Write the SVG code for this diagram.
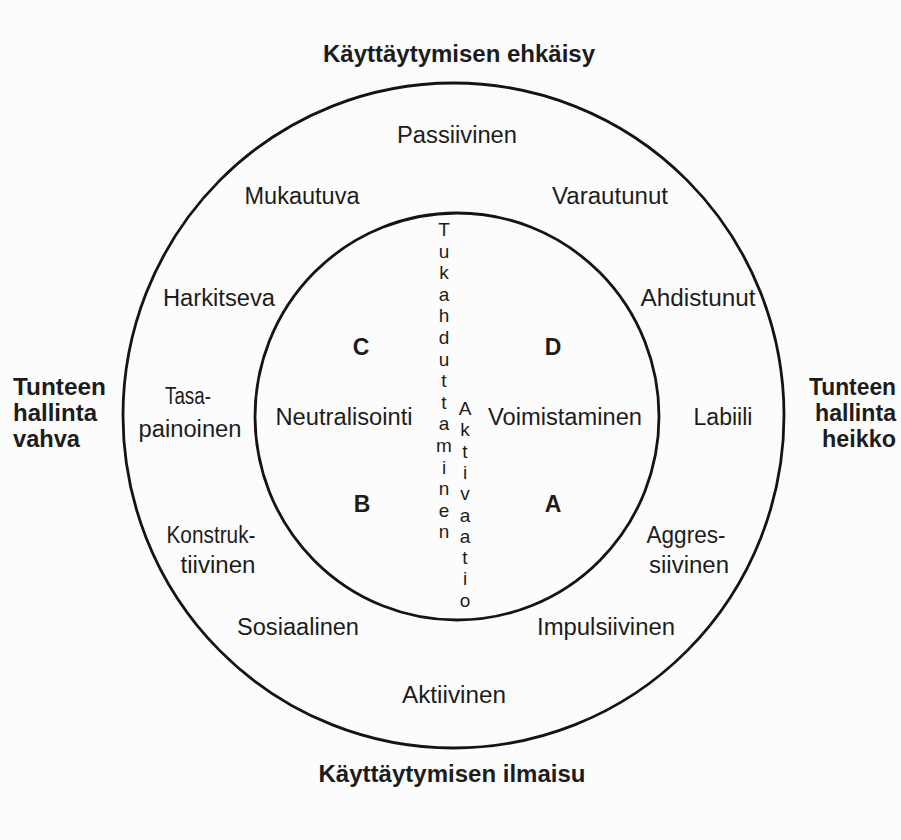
<svg xmlns="http://www.w3.org/2000/svg" width="901" height="840" viewBox="0 0 901 840">
<style>
text{font-family:"Liberation Sans",Arial,sans-serif;fill:#1c1c1c;font-size:23px}
.b{font-weight:bold}
.m{text-anchor:middle}
.e{text-anchor:end}
.ring{fill:none;stroke:#141414;stroke-width:2.8}
.v{text-anchor:middle;font-size:19px}
</style>
<rect width="901" height="840" fill="#fcfcfc"/>
<g id="connectors"/>
<g id="outer-circle"><ellipse class="ring" cx="453.5" cy="415.5" rx="330.5" ry="332.5"/></g>
<g id="inner-circle"><ellipse class="ring" cx="457" cy="416.5" rx="202" ry="203.5"/></g>
<g id="title-top"><text class="b m" x="459" y="62" textLength="272" lengthAdjust="spacingAndGlyphs">Käyttäytymisen ehkäisy</text></g>
<g id="title-bottom"><text class="b m" x="452" y="782" textLength="267" lengthAdjust="spacingAndGlyphs">Käyttäytymisen ilmaisu</text></g>
<g id="left-label"><text class="b" x="13" y="395" textLength="93" lengthAdjust="spacingAndGlyphs">Tunteen</text><text class="b" x="13" y="421" textLength="84" lengthAdjust="spacingAndGlyphs">hallinta</text><text class="b" x="13" y="447" textLength="67" lengthAdjust="spacingAndGlyphs">vahva</text></g>
<g id="right-label"><text class="b e" x="896" y="395" textLength="87" lengthAdjust="spacingAndGlyphs">Tunteen</text><text class="b e" x="896" y="421" textLength="81" lengthAdjust="spacingAndGlyphs">hallinta</text><text class="b e" x="896" y="447" textLength="74" lengthAdjust="spacingAndGlyphs">heikko</text></g>
<g id="passiivinen"><text class="m" x="457" y="143" textLength="120" lengthAdjust="spacingAndGlyphs">Passiivinen</text></g>
<g id="mukautuva"><text class="m" x="302" y="204" textLength="115" lengthAdjust="spacingAndGlyphs">Mukautuva</text></g>
<g id="varautunut"><text class="m" x="610" y="204" textLength="116" lengthAdjust="spacingAndGlyphs">Varautunut</text></g>
<g id="harkitseva"><text class="m" x="219" y="306" textLength="112" lengthAdjust="spacingAndGlyphs">Harkitseva</text></g>
<g id="ahdistunut"><text class="m" x="698" y="306" textLength="115" lengthAdjust="spacingAndGlyphs">Ahdistunut</text></g>
<g id="tasapainoinen"><text class="m" x="188" y="404" textLength="46" lengthAdjust="spacingAndGlyphs">Tasa-</text><text class="m" x="190" y="437" textLength="103" lengthAdjust="spacingAndGlyphs">painoinen</text></g>
<g id="labiili"><text class="m" x="723" y="425" textLength="59" lengthAdjust="spacingAndGlyphs">Labiili</text></g>
<g id="konstruktiivinen"><text class="m" x="211" y="543" textLength="89" lengthAdjust="spacingAndGlyphs">Konstruk-</text><text class="m" x="218" y="573" textLength="75" lengthAdjust="spacingAndGlyphs">tiivinen</text></g>
<g id="aggressiivinen"><text class="m" x="686" y="543" textLength="79" lengthAdjust="spacingAndGlyphs">Aggres-</text><text class="m" x="689" y="573" textLength="80" lengthAdjust="spacingAndGlyphs">siivinen</text></g>
<g id="sosiaalinen"><text class="m" x="298" y="635" textLength="122" lengthAdjust="spacingAndGlyphs">Sosiaalinen</text></g>
<g id="impulsiivinen"><text class="m" x="606" y="635" textLength="138" lengthAdjust="spacingAndGlyphs">Impulsiivinen</text></g>
<g id="aktiivinen"><text class="m" x="454" y="703" textLength="104" lengthAdjust="spacingAndGlyphs">Aktiivinen</text></g>
<g id="quadrant-C"><text class="b m" x="361" y="355">C</text></g>
<g id="quadrant-D"><text class="b m" x="553" y="355">D</text></g>
<g id="quadrant-B"><text class="b m" x="362" y="512">B</text></g>
<g id="quadrant-A"><text class="b m" x="553" y="512">A</text></g>
<g id="neutralisointi"><text class="m" x="344" y="425" textLength="137" lengthAdjust="spacingAndGlyphs">Neutralisointi</text></g>
<g id="voimistaminen"><text class="m" x="565" y="425" textLength="154" lengthAdjust="spacingAndGlyphs">Voimistaminen</text></g>
<g id="tukahduttaminen"><text class="v" x="444" y="236">T<tspan x="444" dy="21.6">u</tspan><tspan x="444" dy="21.6">k</tspan><tspan x="444" dy="21.6">a</tspan><tspan x="444" dy="21.6">h</tspan><tspan x="444" dy="21.6">d</tspan><tspan x="444" dy="21.6">u</tspan><tspan x="444" dy="21.6">t</tspan><tspan x="444" dy="21.6">t</tspan><tspan x="444" dy="21.6">a</tspan><tspan x="444" dy="21.6">m</tspan><tspan x="444" dy="21.6">i</tspan><tspan x="444" dy="21.6">n</tspan><tspan x="444" dy="21.6">e</tspan><tspan x="444" dy="21.6">n</tspan></text></g>
<g id="aktivaatio"><text class="v" x="465" y="415">A<tspan x="465" dy="21.3">k</tspan><tspan x="465" dy="21.3">t</tspan><tspan x="465" dy="21.3">i</tspan><tspan x="465" dy="21.3">v</tspan><tspan x="465" dy="21.3">a</tspan><tspan x="465" dy="21.3">a</tspan><tspan x="465" dy="21.3">t</tspan><tspan x="465" dy="21.3">i</tspan><tspan x="465" dy="21.3">o</tspan></text></g>
</svg>
